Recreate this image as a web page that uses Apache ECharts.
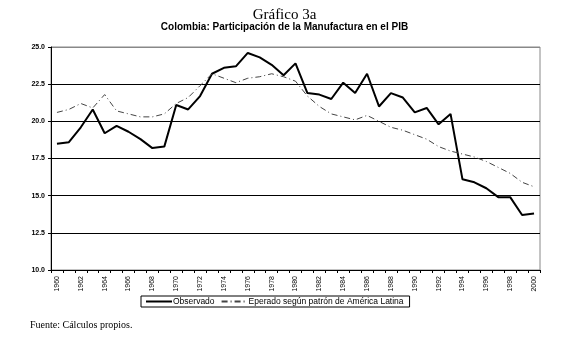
<!DOCTYPE html>
<html><head><meta charset="utf-8">
<script src="https://cdn.jsdelivr.net/npm/echarts@6/dist/echarts.min.js"></script>
<style>html,body{margin:0;padding:0;background:#fff}#c{width:569px;height:337px}</style>
</head><body><div id="c"></div>
<script>
const years = [];
for (let y = 1960; y <= 2000; y++) years.push(String(y));
const observado = [18.5,18.6,19.6,20.8,19.2,19.7,19.3,18.8,18.2,18.3,
  21.1,20.8,21.7,23.2,23.6,23.7,24.6,24.3,23.8,23.1,
  23.9,21.9,21.8,21.5,22.6,21.9,23.2,21.0,21.9,21.6,
  20.6,20.9,19.8,20.5,16.1,15.9,15.5,14.9,14.9,13.7,13.8];
const esperado = [20.6,20.8,21.2,20.9,21.8,20.7,20.5,20.3,20.3,20.5,
  21.2,21.6,22.4,23.2,22.9,22.6,22.9,23.0,23.2,23.0,
  22.7,21.7,21.0,20.5,20.3,20.1,20.4,20.0,19.6,19.4,
  19.1,18.8,18.3,18.0,17.8,17.6,17.3,16.9,16.5,15.9,15.6];
const yTicks = [10,12.5,15,17.5,20,22.5,25];

const chart = echarts.init(document.getElementById('c'), null, {renderer:'canvas'});
chart.setOption({
  backgroundColor:'#fff',
  animation:false,
  title:[
    {text:'Gráfico 3a', left:'center', top:3, textStyle:{fontFamily:'Liberation Serif', fontSize:15, fontWeight:'normal', color:'#000'}},
    {text:'Colombia: Participación de la Manufactura en el PIB', left:'center', top:17, textStyle:{fontFamily:'Liberation Sans', fontSize:10, fontWeight:'bold', color:'#000'}},
    {text:'Fuente: Cálculos propios.', left:25, top:315, textStyle:{fontFamily:'Liberation Serif', fontSize:10, fontWeight:'normal', color:'#000'}}
  ],
  grid:{left:51, right:29, top:47, bottom:67, show:true, borderColor:'#888', borderWidth:1},
  legend:{
    left:141, top:296, padding:[1,6,1,4],
    borderColor:'#000', borderWidth:1, itemGap:6, itemWidth:26, itemHeight:8,
    itemStyle:{opacity:0},
    textStyle:{fontFamily:'Liberation Sans', fontSize:8.5, color:'#000', padding:[0,0,0,-4]},
    data:['Observado','Eperado según patrón de América Latina']
  },
  xAxis:{
    type:'category', data:years, boundaryGap:true,
    axisLine:{lineStyle:{color:'#000', width:1}},
    axisTick:{show:true, length:3, interval:0, lineStyle:{color:'#000'}},
    axisLabel:{rotate:90, interval:1, fontFamily:'Liberation Sans', fontSize:7, color:'#000', margin:6},
    splitLine:{show:false}
  },
  yAxis:{
    type:'value', min:10, max:25, interval:2.5,
    axisLine:{show:true, lineStyle:{color:'#000', width:1}},
    axisTick:{show:true, length:3, lineStyle:{color:'#000'}},
    axisLabel:{formatter:v=>v.toFixed(1), fontFamily:'Liberation Sans', fontSize:7, fontWeight:'bold', color:'#000', margin:6},
    splitLine:{show:true, lineStyle:{color:['#000','#000','#000','#000','#000','#000','#888'], width:1}}
  },
  series:[
    {name:'Observado', type:'line', data:observado, symbol:'none', lineStyle:{color:'#000', width:2}, itemStyle:{color:'#000'}},
    {name:'Eperado según patrón de América Latina', type:'line', data:esperado, symbol:'none', lineStyle:{color:'#444', width:1, type:[6,3,1,3]}, itemStyle:{color:'#444'}}
  ]
});
</script></body></html>
